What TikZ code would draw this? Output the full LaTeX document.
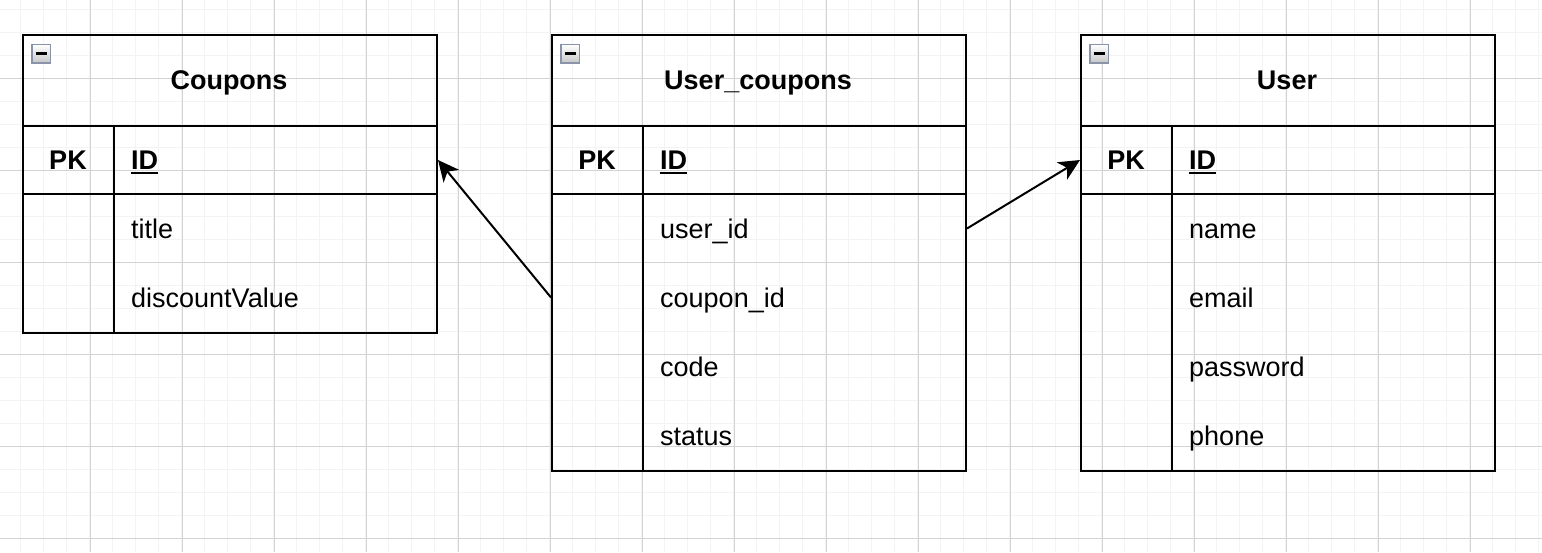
\documentclass[tikz,border=0pt]{standalone}
\usepackage{fontspec}
\setmainfont{Liberation Sans}
\usetikzlibrary{arrows.meta}
\definecolor{gridminor}{RGB}{243,243,243}
\definecolor{gridmajor}{RGB}{211,211,211}
\definecolor{iconedge}{RGB}{138,148,168}

\begin{document}
\begin{tikzpicture}[x=1pt,y=-1pt,
    tablebox/.style={draw,line width=2pt,inner sep=0pt,minimum width=414pt,anchor=north west},
    tableline/.style={line width=2pt},
    celltext/.style={inner sep=0pt,text height=19.5pt,text depth=1.5pt,font={\fontsize{27}{32}\selectfont}},
    headtext/.style={celltext,font={\fontsize{27}{32}\selectfont\bfseries}},
    field/.style={celltext,anchor=west,text depth=0pt},
    keyfield/.style={headtext,anchor=west},
    relarrow/.style={line width=2pt,-{Stealth[length=21pt,width=20pt,inset=6pt]}}]

    \useasboundingbox (0,0) rectangle (1542,552);

    % Siatka w tle
    \foreach \Xc in {0,...,67}
      \draw[gridminor,line width=1.5pt] ({-2.3+23*\Xc},0) -- ++(0,552);
    \foreach \Yc in {1,...,24}
      \draw[gridminor,line width=1.5pt] (0,{-13.7+23*\Yc}) -- ++(1542,0);
    \foreach \Xc in {0,...,17}
      \draw[gridmajor] ({-2.3+92*\Xc},0) -- ++(0,552);
    \foreach \Yc in {1,...,6}
      \draw[gridmajor] (0,{-13.7+92*\Yc}) -- ++(1542,0);

    % Tabela Coupons
    \node[tablebox,minimum height=298pt] (coupons) at (22,34) {};
    \node[headtext] (coupons-head) at (229,80) {Coupons};
    \node[headtext] (coupons-pk) at (68,160) {PK};
    \node[keyfield] (coupons-id) at (131,160) {ID};
    \node[field] (coupons-title) at (131,228.5) {title};
    \node[field] (coupons-discount) at (131,297.5) {discountValue};

    % Tabela User_coupons
    \node[tablebox,minimum height=436pt] (uc) at (551,34) {};
    \node[headtext] (uc-head) at (758,80) {User\_coupons};
    \node[headtext] (uc-pk) at (597,160) {PK};
    \node[keyfield] (uc-id) at (660,160) {ID};
    \node[field] (uc-userid) at (660,228.5) {user\_id};
    \node[field] (uc-couponid) at (660,297.5) {coupon\_id};
    \node[field] (uc-code) at (660,366.5) {code};
    \node[field] (uc-status) at (660,435.5) {status};

    % Tabela User
    \node[tablebox,minimum height=436pt] (user) at (1080,34) {};
    \node[headtext] (user-head) at (1287,80) {User};
    \node[headtext] (user-pk) at (1126,160) {PK};
    \node[keyfield] (user-id) at (1189,160) {ID};
    \node[field] (user-name) at (1189,228.5) {name};
    \node[field] (user-email) at (1189,297.5) {email};
    \node[field] (user-password) at (1189,366.5) {password};
    \node[field] (user-phone) at (1189,435.5) {phone};

    % Linie wewnątrz tabel, podkreślenie klucza i przycisk zwijania
    \foreach \Tab in {coupons,uc,user}
    {
      \draw[tableline] ([yshift=-92pt]\Tab.north west) -- ([yshift=-92pt]\Tab.north east);
      \draw[tableline] ([yshift=-160pt]\Tab.north west) -- ([yshift=-160pt]\Tab.north east);
      \draw[tableline] ([xshift=92pt,yshift=-92pt]\Tab.north west) -- ([xshift=92pt]\Tab.south west);
      \draw[line width=2.2pt] ([yshift=-3.8pt]\Tab-id.base west) -- ([yshift=-3.8pt]\Tab-id.base east);
      \draw[iconedge,line width=1.3pt,top color=white,bottom color=gray!45]
        ([shift={(10pt,-10.5pt)}]\Tab.north west) rectangle ++(18.5,18.5);
      \draw[line width=3pt] ([shift={(13.5pt,-19.5pt)}]\Tab.north west) -- ++(11.5,0);
    }

    % Relacje
    \draw[relarrow] (uc.west |- uc-couponid) -- (coupons.east |- coupons-id);
    \draw[relarrow] (uc.east |- uc-userid) -- (user.west |- user-id);

\end{tikzpicture}
\end{document}
